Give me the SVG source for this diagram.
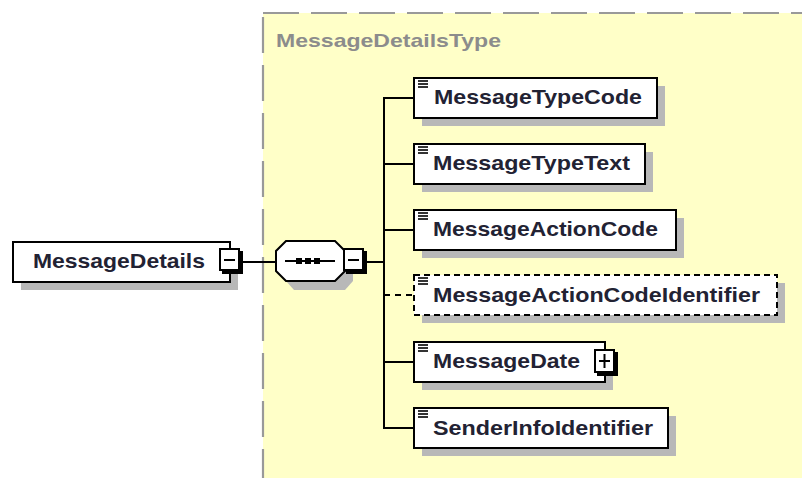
<svg xmlns="http://www.w3.org/2000/svg" width="802" height="478" viewBox="0 0 802 478">
<style>
.lbl{font-family:"Liberation Sans",Arial,sans-serif;font-weight:bold;font-size:21px;fill:#222233}
.ttl{font-family:"Liberation Sans",Arial,sans-serif;font-weight:bold;font-size:19px;fill:#8c8c8c}
.box{fill:#ffffff;stroke:#000000;stroke-width:2}
.dbox{fill:#ffffff;stroke:#000000;stroke-width:2;stroke-dasharray:6 4}
.shd{fill:#b8b8b8}
.ln{stroke:#000000;stroke-width:2;fill:none}
.dln{stroke:#000000;stroke-width:2;fill:none;stroke-dasharray:6 5}
.ico{stroke:#000000;stroke-width:1.6}
</style>
<defs>
<g id="icon">
<line class="ico" x1="0" y1="0" x2="10" y2="0"/>
<line class="ico" x1="0" y1="3" x2="10" y2="3"/>
<line class="ico" x1="0" y1="6" x2="10" y2="6"/>
</g>
</defs>
<rect width="802" height="478" fill="#ffffff"/>
<g id="type-MessageDetailsType">
<rect x="263" y="13" width="600" height="500" fill="#ffffc8" stroke="#999999" stroke-width="2.2" stroke-dasharray="36 12"/>
<text class="ttl" x="276" y="47" textLength="225" lengthAdjust="spacingAndGlyphs">MessageDetailsType</text>
</g>
<g id="connectors">
<line class="ln" x1="243" y1="262" x2="276" y2="262"/>
<line class="ln" x1="367" y1="262" x2="384" y2="262"/>
<line class="ln" x1="384" y1="97" x2="384" y2="429"/>
<line class="ln" x1="383" y1="98" x2="414" y2="98"/>
<line class="ln" x1="383" y1="164" x2="414" y2="164"/>
<line class="ln" x1="383" y1="230" x2="414" y2="230"/>
<line class="dln" x1="384" y1="295" x2="414" y2="295"/>
<line class="ln" x1="383" y1="362" x2="414" y2="362"/>
<line class="ln" x1="383" y1="428" x2="414" y2="428"/>
</g>
<g id="node-MessageDetails">
<rect class="shd" x="21" y="250" width="217" height="40"/>
<rect class="box" x="13" y="242" width="217" height="40"/>
<text class="lbl" x="33" y="268" textLength="172" lengthAdjust="spacingAndGlyphs">MessageDetails</text>
<rect x="222" y="251" width="21" height="23" fill="#000"/>
<rect class="box" x="220" y="249" width="19" height="21"/>
<line class="ln" x1="224" y1="260" x2="235" y2="260"/>
</g>
<g id="node-sequence">
<path class="shd" d="M294,249 L345,249 L353,258 L353,281 L345,290 L294,290 L286,281 L286,258 Z" stroke="none"/>
<path class="box" d="M286,241 L335,241 L345,251 L345,271 L335,281 L286,281 L276,271 L276,251 Z"/>
<line class="ln" x1="285" y1="261" x2="335" y2="261"/>
<rect x="296" y="258" width="6" height="6" fill="#000"/>
<rect x="305" y="258" width="6" height="6" fill="#000"/>
<rect x="314" y="258" width="6" height="6" fill="#000"/>
<rect x="346" y="251" width="21" height="23" fill="#000"/>
<rect class="box" x="344" y="249" width="19" height="21"/>
<line class="ln" x1="348" y1="260" x2="359" y2="260"/>
</g>
<g id="node-MessageTypeCode">
<rect class="shd" x="422" y="86" width="243" height="40"/>
<rect class="box" x="414" y="78" width="243" height="40"/>
<use href="#icon" x="418" y="81"/>
<text class="lbl" x="434" y="104" textLength="208" lengthAdjust="spacingAndGlyphs">MessageTypeCode</text>
</g>
<g id="node-MessageTypeText">
<rect class="shd" x="422" y="152" width="231" height="40"/>
<rect class="box" x="414" y="144" width="231" height="40"/>
<use href="#icon" x="418" y="147"/>
<text class="lbl" x="433" y="170" textLength="197" lengthAdjust="spacingAndGlyphs">MessageTypeText</text>
</g>
<g id="node-MessageActionCode">
<rect class="shd" x="422" y="218" width="262" height="40"/>
<rect class="box" x="414" y="210" width="262" height="40"/>
<use href="#icon" x="418" y="213"/>
<text class="lbl" x="433" y="236" textLength="225" lengthAdjust="spacingAndGlyphs">MessageActionCode</text>
</g>
<g id="node-MessageActionCodeIdentifier">
<rect class="shd" x="422" y="283" width="363" height="40"/>
<rect class="dbox" x="414" y="275" width="363" height="40"/>
<use href="#icon" x="418" y="278"/>
<text class="lbl" x="433" y="302" textLength="327" lengthAdjust="spacingAndGlyphs">MessageActionCodeIdentifier</text>
</g>
<g id="node-MessageDate">
<rect class="shd" x="422" y="350" width="191" height="40"/>
<rect class="box" x="414" y="342" width="191" height="40"/>
<use href="#icon" x="418" y="345"/>
<text class="lbl" x="433" y="368" textLength="147" lengthAdjust="spacingAndGlyphs">MessageDate</text>
<rect x="597" y="352" width="21" height="24" fill="#000"/>
<rect class="box" x="595" y="350" width="19" height="22"/>
<line class="ln" x1="599" y1="361" x2="610" y2="361"/>
<line class="ln" x1="604.5" y1="354" x2="604.5" y2="368"/>
</g>
<g id="node-SenderInfoIdentifier">
<rect class="shd" x="422" y="416" width="254" height="40"/>
<rect class="box" x="414" y="408" width="254" height="40"/>
<use href="#icon" x="418" y="411"/>
<text class="lbl" x="433" y="435" textLength="220" lengthAdjust="spacingAndGlyphs">SenderInfoIdentifier</text>
</g>
</svg>
